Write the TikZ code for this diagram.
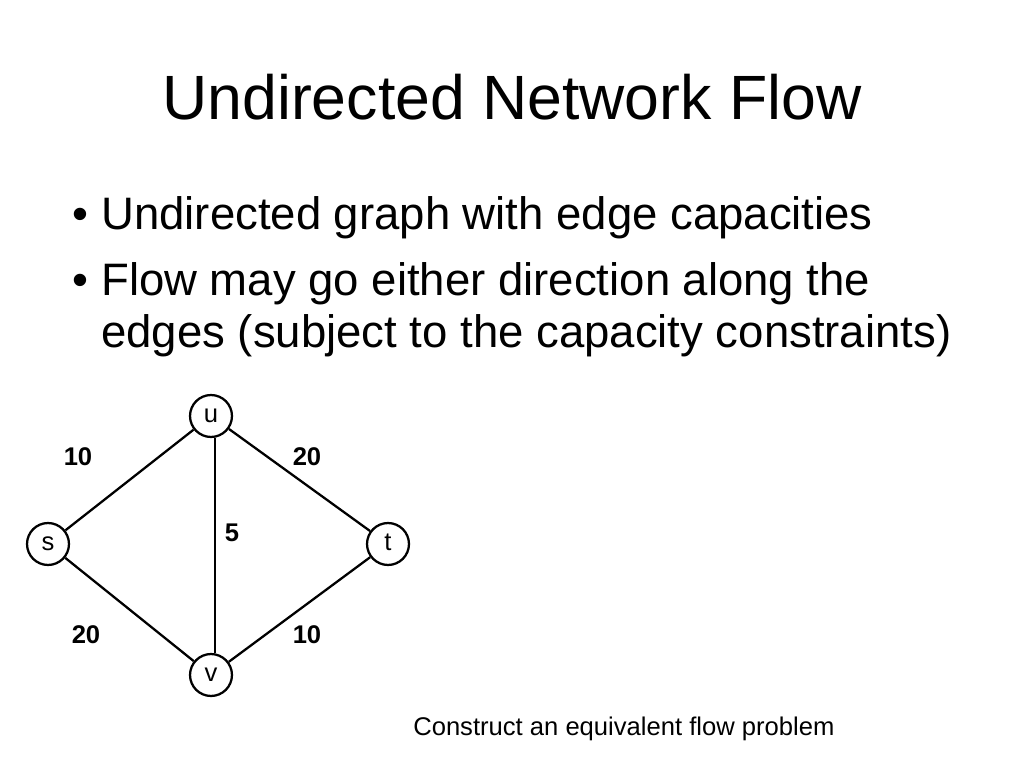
\documentclass[tikz,border=0pt]{standalone}
\usepackage{fontspec}
\setmainfont{Liberation Sans}
\begin{document}
\begin{tikzpicture}[x=0.703125pt,y=0.703125pt]
\tikzstyle{every node}+=[inner sep=0pt]
\tikzstyle{vertex}=[draw=black,circle,line width=1.6pt,minimum size=29.5pt,text height=9.4pt,text depth=0pt,font=\fontsize{18}{21.6}\selectfont]
\tikzstyle{capacity}=[font=\fontsize{18}{21.6}\selectfont\bfseries]
\tikzstyle{link}=[black,line width=1.6pt]
\tikzstyle{bullettext}=[anchor=base west,font=\fontsize{32}{38}\selectfont]
\useasboundingbox (0,0) rectangle (1024,-768);
\node [anchor=base,font=\fontsize{44}{52}\selectfont] (title) at (512,-120) {Undirected Network Flow};
\node [bullettext] (dot1) at (72,-230) {\textbullet};
\node [bullettext] (item1) at (101,-230) {Undirected graph with edge capacities};
\node [bullettext] (dot2) at (72,-295) {\textbullet};
\node [bullettext] (item2a) at (101,-295) {Flow may go either direction along the};
\node [bullettext] (item2b) at (101,-347) {edges (subject to the capacity constraints)};
\node [vertex] (u) at (211,-416) {u};
\node [vertex] (s) at (48,-544) {s};
\node [vertex] (t) at (388,-544) {t};
\node [vertex] (v) at (211,-675) {v};
\draw [link] (s) -- (u);
\draw [link] (u) -- (t);
\draw [link] (s) -- (v);
\draw [link] (v) -- (t);
\draw [link] ([xshift=2.8pt]u.south) -- ([xshift=2.8pt]v.north);
\node [capacity] (csu) at (78,-457) {10};
\node [capacity] (cut) at (307,-457) {20};
\node [capacity] (cuv) at (232,-533) {5};
\node [capacity] (csv) at (86,-635) {20};
\node [capacity] (cvt) at (307,-635) {10};
\node [anchor=base west,font=\fontsize{18}{21.6}\selectfont] (note) at (413,-735) {Construct an equivalent flow problem};
\end{tikzpicture}
\end{document}
